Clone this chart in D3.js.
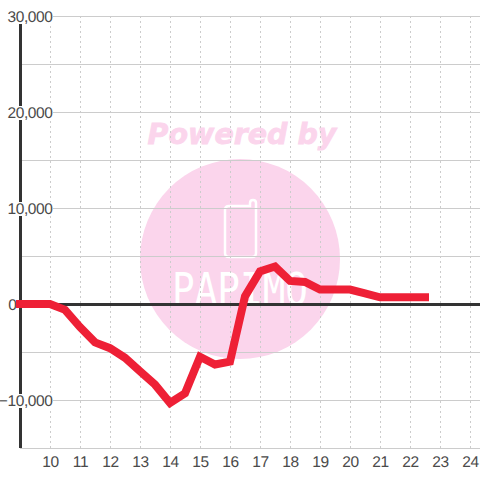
<!DOCTYPE html>
<html><head><meta charset="utf-8">
<script src="https://cdn.jsdelivr.net/npm/d3@7"></script>
<style>html,body{margin:0;padding:0;background:#fff}svg{display:block}</style>
</head><body><svg id="c" width="480" height="480"></svg>
<script>
const hours=[9,9.5,10,10.5,11,11.5,12,12.5,13,13.5,14,14.5,15,15.5,16,16.5,17,17.5,18,18.5,19,19.5,20,20.5,21,21.5,22,22.5];
const values=[0,0,0,-600,-2400,-4000,-4600,-5600,-7000,-8400,-10300,-9300,-5500,-6300,-6000,800,3400,3900,2400,2300,1500,1500,1500,1100,700,700,700,700];
const xTicks=[10,11,12,13,14,15,16,17,18,19,20,21,22,23,24];
const yLabelTicks=[30000,20000,10000,0,-10000];
const yGridTicks=[30000,25000,20000,15000,10000,5000,0,-5000,-10000,-15000];
const font='"Liberation Sans",Arial,sans-serif';
const svg=d3.select('#c');
const x=d3.scaleLinear().domain([9,24]).range([20,470]);
const y=d3.scaleLinear().domain([30000,-15000]).range([16,448]);
const wm=svg.append('g');
wm.append('text').attr('x',242).attr('y',144).attr('text-anchor','middle').attr('font-family','"DejaVu Sans"').attr('font-weight','bold').attr('font-style','italic').attr('font-size',28.5).attr('fill','#fbd5ec').attr('stroke','#fbd5ec').attr('stroke-width',.8).text('Powered by');
wm.append('circle').attr('cx',240).attr('cy',259).attr('r',100).attr('fill','#fbd5ec');
wm.append('path').attr('d','M229 206H250V203Q250 200 253 200Q256 200 256 203V253Q256 257 252 257H229Q225 257 225 253V210Q225 206 229 206Z').attr('fill','none').attr('stroke','#fff').attr('stroke-width',2.5);
wm.append('text').attr('x',240).attr('y',305).attr('text-anchor','middle').attr('font-family','"DejaVu Sans Mono"').attr('font-size',45).attr('textLength',136).attr('lengthAdjust','spacingAndGlyphs').attr('fill','#fff').text('PAPIMO');
const g=svg.append('g');
g.selectAll('.h').data(yGridTicks).join('line').attr('x1',20).attr('x2',480).attr('y1',d=>y(d)+.5).attr('y2',d=>y(d)+.5).attr('stroke','#ccc');
g.selectAll('.v').data(xTicks).join('line').attr('x1',d=>x(d)+.5).attr('x2',d=>x(d)+.5).attr('y1',16).attr('y2',448).attr('stroke','#ccc').attr('stroke-dasharray','2 3');
g.append('line').attr('x1',20.5).attr('x2',20.5).attr('y1',16).attr('y2',448).attr('stroke','#333').attr('stroke-width',3);
g.append('line').attr('x1',20).attr('x2',480).attr('y1',y(0)+.5).attr('y2',y(0)+.5).attr('stroke','#333').attr('stroke-width',3);
const lab=svg.append('g');
lab.selectAll('rect').data(yLabelTicks).join('rect').attr('x',d=>d===0?4:2).attr('y',d=>y(d)-6).attr('width',d=>d===0?14:51).attr('height',14).attr('fill','#fff');
lab.selectAll('text').data(yLabelTicks).join('text').attr('x',d=>d===0?16.5:52.5).attr('y',d=>y(d)+6).attr('text-anchor','end').attr('font-family',font).attr('font-size',15.5).attr('letter-spacing',-.4).attr('text-rendering','geometricPrecision').attr('fill','#4a4a4a').text(d=>d3.format(',')(d));
svg.append('path').attr('d',d3.line().x((d,i)=>x(hours[i])).y(d=>y(d))(values)).attr('fill','none').attr('stroke','#ee2036').attr('stroke-width',8).attr('stroke-linecap','square');
svg.append('g').selectAll('text').data(xTicks).join('text').attr('x',d=>x(d)+.5).attr('y',467).attr('text-anchor','middle').attr('font-family',font).attr('font-size',15.5).attr('letter-spacing',-.4).attr('text-rendering','geometricPrecision').attr('fill','#4a4a4a').text(d=>d);
</script></body></html>
